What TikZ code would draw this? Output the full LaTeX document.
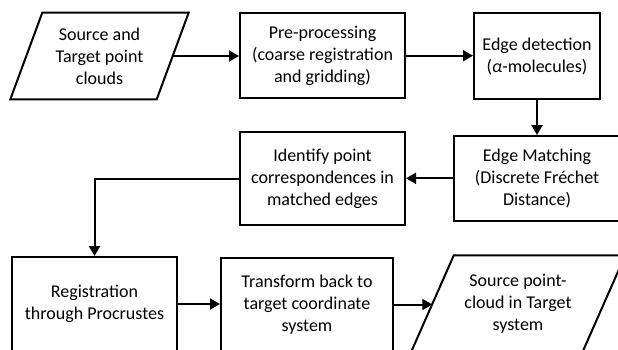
\documentclass[tikz,border=0pt]{standalone}
\usepackage{fontspec}
\setmainfont{Carlito}
\usetikzlibrary{arrows.meta}
\begin{document}
\begin{tikzpicture}[x=1pt,y=-1pt,
  every node/.style={font=\fontsize{18}{22}\selectfont, align=center, inner sep=0pt},
  procbox/.style={draw, line width=2pt, rectangle},
  iobox/.style={rectangle},
  ioline/.style={line width=2pt, line join=miter},
  flow/.style={line width=2pt, -{Triangle[length=10pt,width=11pt]}}]
\useasboundingbox (0,0) rectangle (618,349);
\clip (0,0) rectangle (618,349);
\fill[white] (0,0) rectangle (618,349);
\node[iobox, minimum width=146pt, minimum height=86.3pt] (p1) at (99.5,56) {Source and\\Target point\\clouds};
\draw[ioline] ([xshift=16pt]p1.north west) -- ([xshift=16pt]p1.north east)
  -- ([xshift=-16pt]p1.south east) -- ([xshift=-16pt]p1.south west) -- cycle;
\node[procbox, minimum width=165pt, minimum height=85.5pt] (b2) at (322.5,55.7) {Pre-processing\\(coarse registration\\and gridding)};
\node[procbox, minimum width=126pt, minimum height=86pt] (b3) at (537,56) {Edge detection\\(\textit{α}-molecules)};
\node[procbox, minimum width=166pt, minimum height=84.5pt] (b4) at (537,178.3) {Edge Matching\\(Discrete Fréchet\\Distance)};
\node[procbox, minimum width=165pt, minimum height=93.5pt] (b5) at (322.5,178.7) {Identify point\\correspondences in\\matched edges};
\node[procbox, minimum width=165pt, minimum height=94pt] (b6) at (94.5,304) {Registration\\through Procrustes};
\node[procbox, minimum width=172pt, minimum height=94pt] (b7) at (307,304.5) {Transform back to\\target coordinate\\system};
\node[iobox, minimum width=171pt, minimum height=97pt] (p8) at (518,304) {Source point-\\cloud in Target\\system};
\draw[ioline] ([xshift=21.5pt]p8.north west) -- ([xshift=21.5pt]p8.north east)
  -- ([xshift=-21.5pt]p8.south east) -- ([xshift=-21.5pt]p8.south west) -- cycle;
\draw[flow] (p1.east) -- (p1.east -| b2.west);
\draw[flow] (b2.east) -- (b2.east -| b3.west);
\draw[flow] (b3.south) -- (b4.north);
\draw[flow] (b4.west) -- (b4.west -| b5.east);
\draw[flow] (b5.west) -| (b6.north);
\draw[flow] (b6.east) -- (b6.east -| b7.west);
\draw[flow] (b7.east) -- (b7.east -| p8.west);
\end{tikzpicture}
\end{document}
